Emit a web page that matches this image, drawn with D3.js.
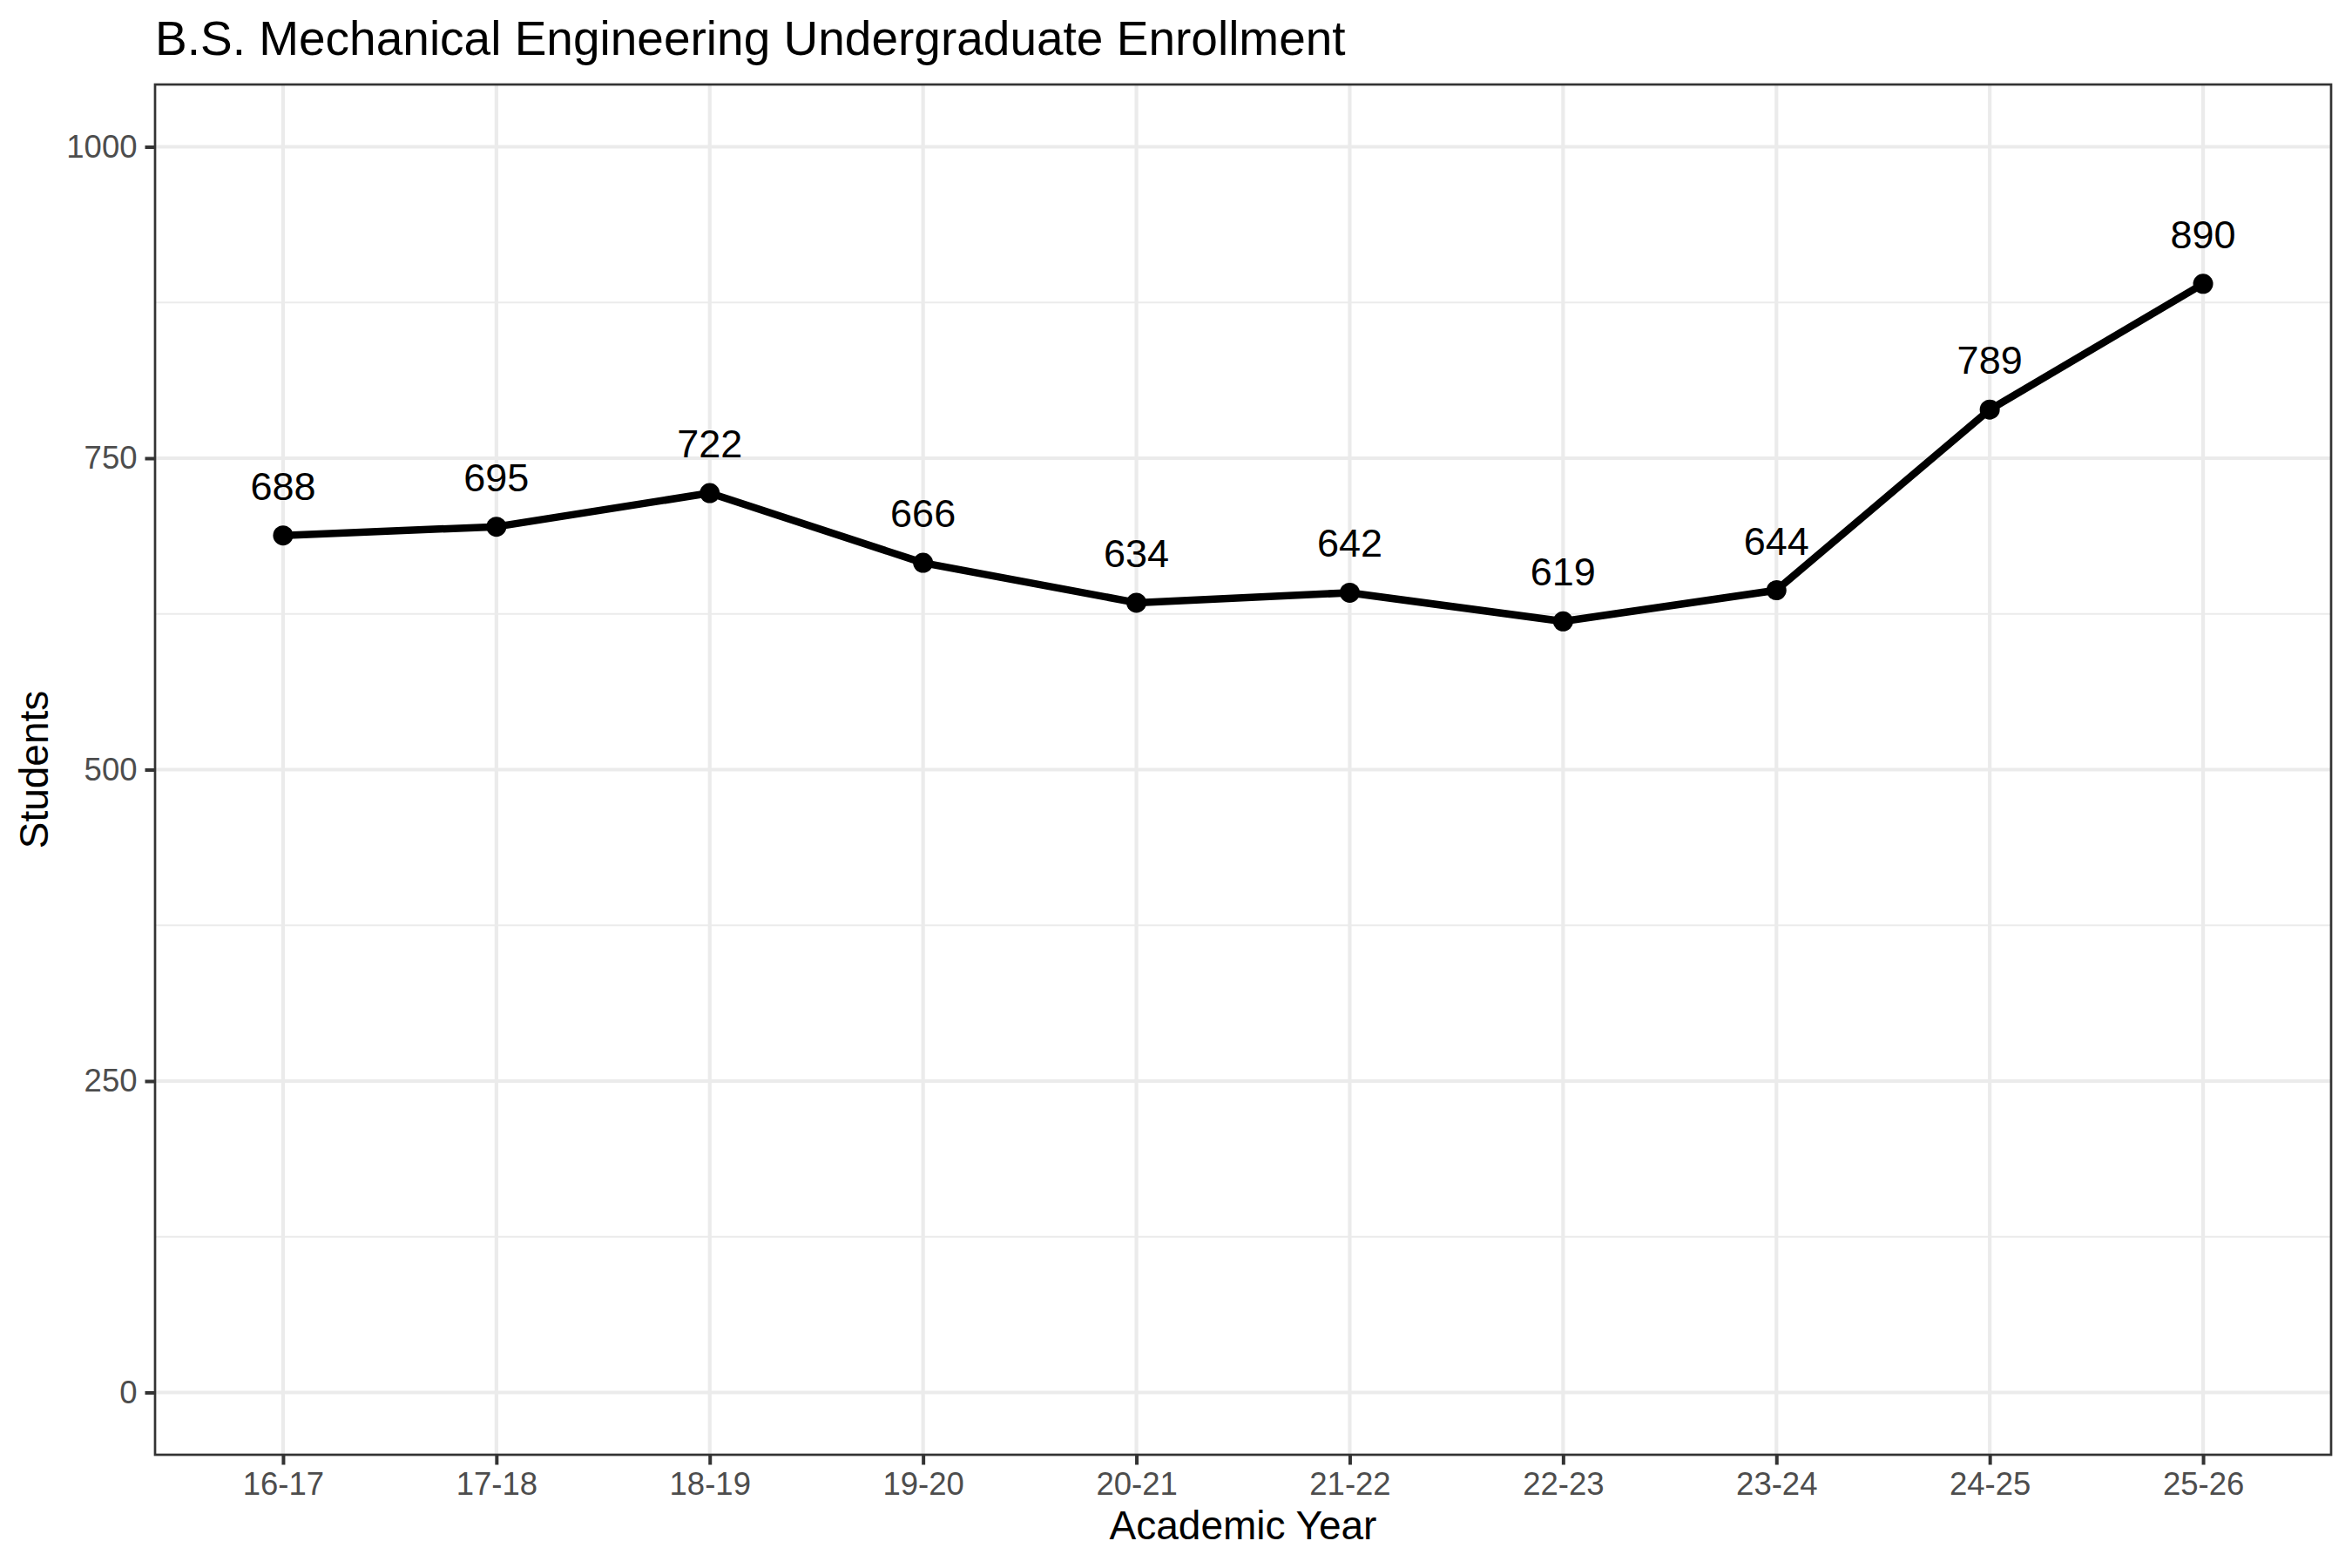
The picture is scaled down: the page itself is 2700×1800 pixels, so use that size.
<!DOCTYPE html>
<html lang="en">
<head>
<meta charset="UTF-8">
<title>B.S. Mechanical Engineering Undergraduate Enrollment</title>
<script src="https://cdnjs.cloudflare.com/ajax/libs/d3/7.8.5/d3.min.js"></script>
<style>
    html, body { margin: 0; padding: 0; background: #fff; }
    svg { display: block; font-family: "Liberation Sans", Arial, Helvetica, sans-serif; }
</style>
</head>
<body>
<svg id="chart" width="2700" height="1800"></svg>
<script>
    const academicYears = ["16-17", "17-18", "18-19", "19-20", "20-21", "21-22", "22-23", "23-24", "24-25", "25-26"];
    const studentCounts = [688, 695, 722, 666, 634, 642, 619, 644, 789, 890];
    const yMajorTicks = [0, 250, 500, 750, 1000];
    const yMinorTicks = [125, 375, 625, 875];

    const titleText = "B.S. Mechanical Engineering Undergraduate Enrollment";
    const xTitle = "Academic Year";
    const yTitle = "Students";

    const svg = d3.select("#chart");
    const panel = { left: 178, top: 97, right: 2676, bottom: 1670 };

    // discrete x scale with ggplot-like 0.6 unit padding on each side
    const step = (panel.right - panel.left) / (academicYears.length - 1 + 1.2);
    const x = d3.scalePoint()
        .domain(academicYears)
        .range([panel.left + 0.6 * step, panel.right - 0.6 * step]);

    const y = d3.scaleLinear()
        .domain([-50, 1050])
        .range([panel.bottom, panel.top]);

    // grid
    const grid = svg.append("g");
    grid.selectAll(".minor")
        .data(yMinorTicks)
        .join("line")
        .attr("x1", panel.left).attr("x2", panel.right)
        .attr("y1", d => y(d)).attr("y2", d => y(d))
        .attr("stroke", "#EBEBEB").attr("stroke-width", 2.2);
    grid.selectAll(".major")
        .data(yMajorTicks)
        .join("line")
        .attr("x1", panel.left).attr("x2", panel.right)
        .attr("y1", d => y(d)).attr("y2", d => y(d))
        .attr("stroke", "#EBEBEB").attr("stroke-width", 4.2);
    grid.selectAll(".vmajor")
        .data(academicYears)
        .join("line")
        .attr("x1", d => x(d)).attr("x2", d => x(d))
        .attr("y1", panel.top).attr("y2", panel.bottom)
        .attr("stroke", "#EBEBEB").attr("stroke-width", 4.2);

    // axes
    const xAxis = svg.append("g")
        .attr("transform", `translate(0,${panel.bottom})`)
        .call(d3.axisBottom(x).tickSize(11.5).tickPadding(6));
    const yAxis = svg.append("g")
        .attr("transform", `translate(${panel.left},0)`)
        .call(d3.axisLeft(y).tickValues(yMajorTicks).tickFormat(d3.format("d")).tickSize(11.5).tickPadding(9));
    [xAxis, yAxis].forEach(a => {
        a.select(".domain").remove();
        a.selectAll(".tick line").attr("stroke", "#333333").attr("stroke-width", 4);
        a.selectAll(".tick text")
            .attr("fill", "#4D4D4D")
            .style("font-size", "36.5px")
            .style("font-family", "'Liberation Sans', Arial, sans-serif");
    });
    xAxis.selectAll(".tick text").attr("dy", "0.71em").attr("y", 20);

    // line and points
    const line = d3.line()
        .x((d, i) => x(academicYears[i]))
        .y(d => y(d));

    svg.append("path")
        .datum(studentCounts)
        .attr("d", line)
        .attr("fill", "none")
        .attr("stroke", "#000")
        .attr("stroke-width", 8.5)
        .attr("stroke-linejoin", "round")
        .attr("stroke-linecap", "butt");

    svg.append("g").selectAll("circle")
        .data(studentCounts)
        .join("circle")
        .attr("cx", (d, i) => x(academicYears[i]))
        .attr("cy", d => y(d))
        .attr("r", 11.5)
        .attr("fill", "#000");

    svg.append("g").selectAll("text")
        .data(studentCounts)
        .join("text")
        .attr("x", (d, i) => x(academicYears[i]))
        .attr("y", d => y(d) - 41)
        .attr("text-anchor", "middle")
        .attr("fill", "#000")
        .style("font-size", "45px")
        .text(d => d);

    // panel border
    svg.append("rect")
        .attr("x", panel.left).attr("y", panel.top)
        .attr("width", panel.right - panel.left)
        .attr("height", panel.bottom - panel.top)
        .attr("fill", "none")
        .attr("stroke", "#333333")
        .attr("stroke-width", 2.7);

    // titles
    svg.append("text")
        .attr("x", panel.left)
        .attr("y", 63)
        .attr("fill", "#000")
        .style("font-size", "55px")
        .text(titleText);

    svg.append("text")
        .attr("x", (panel.left + panel.right) / 2)
        .attr("y", 1767)
        .attr("text-anchor", "middle")
        .attr("fill", "#000")
        .style("font-size", "46px")
        .text(xTitle);

    svg.append("text")
        .attr("transform", `translate(55,${(panel.top + panel.bottom) / 2}) rotate(-90)`)
        .attr("text-anchor", "middle")
        .attr("fill", "#000")
        .style("font-size", "46px")
        .text(yTitle);
</script>
</body>
</html>
